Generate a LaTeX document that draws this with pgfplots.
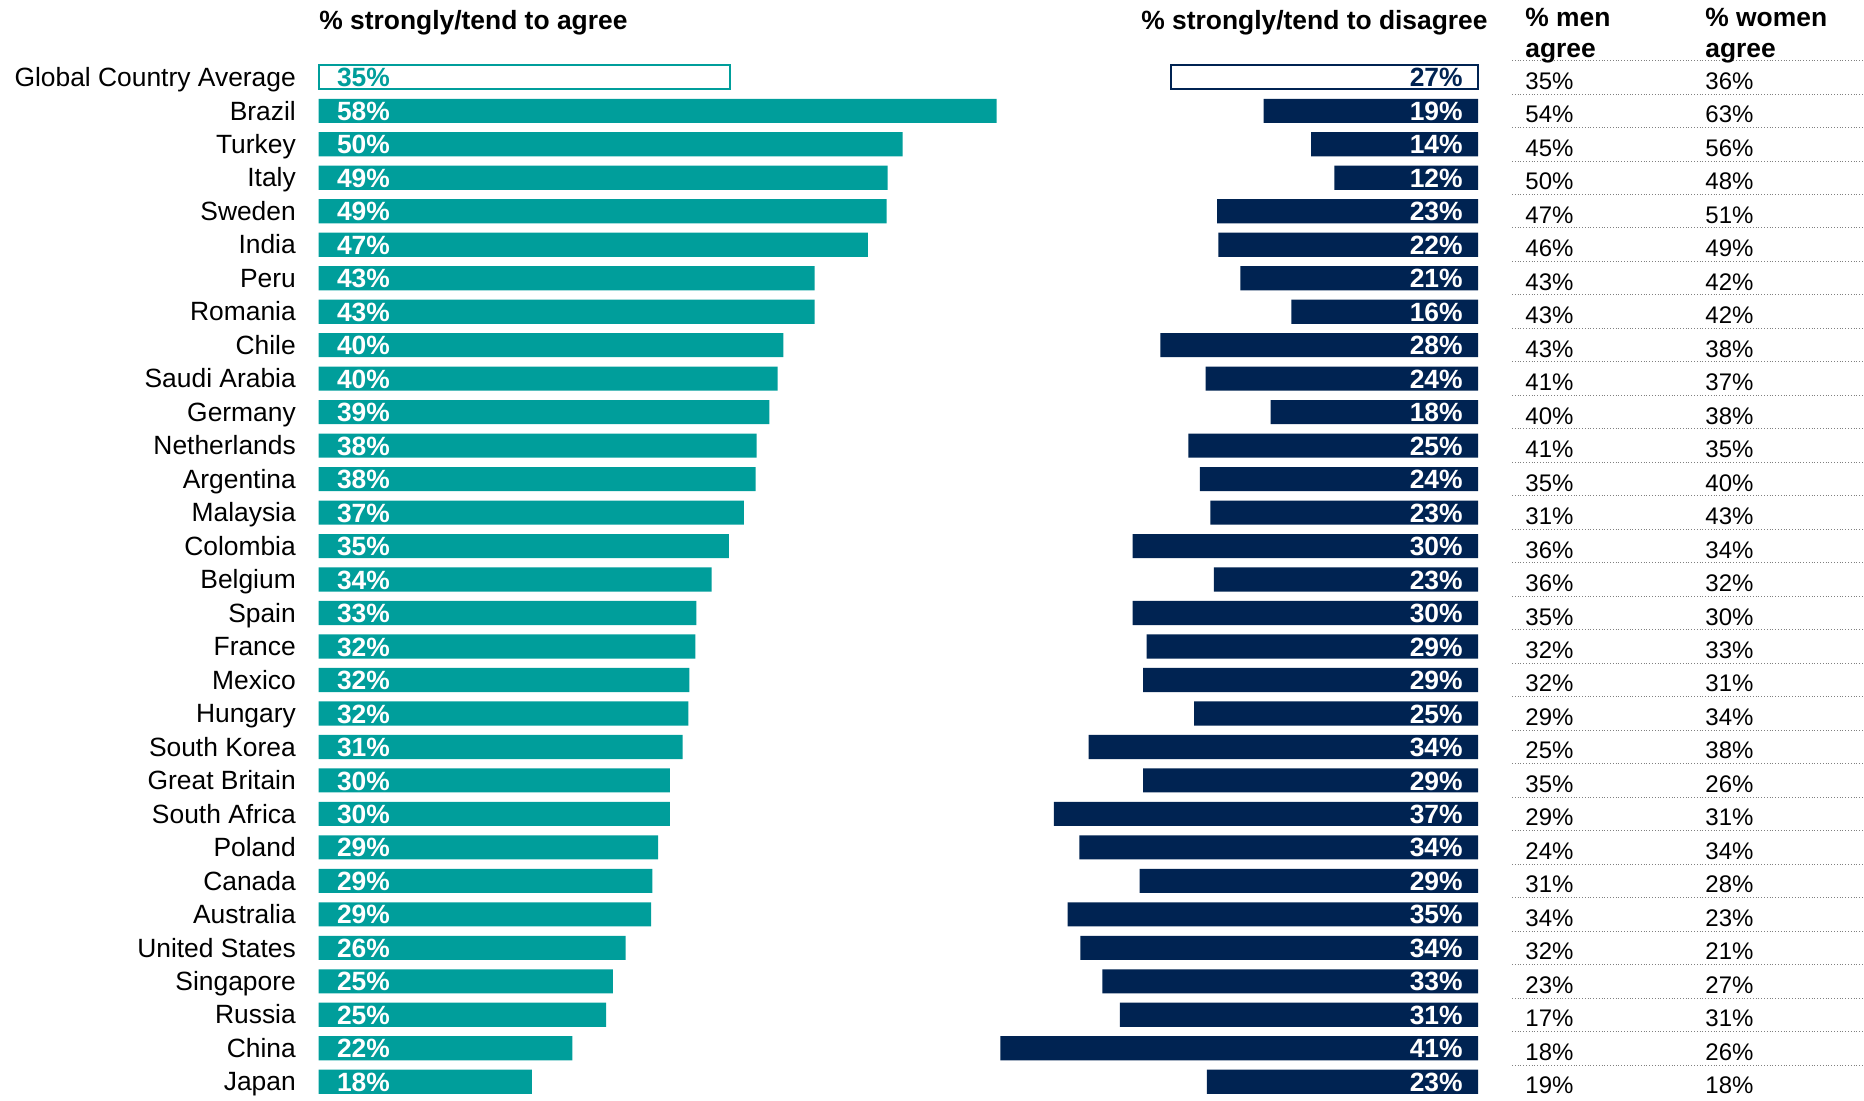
\documentclass[border=0pt]{standalone}
\usepackage{fontspec}
\setmainfont{Liberation Sans}
\usepackage{pgfplots}
\pgfplotsset{compat=1.18}
\usepackage{pgfplotstable}
\definecolor{ipteal}{RGB}{0,158,155}
\definecolor{ipnavy}{RGB}{0,35,82}

\pgfplotstableread[col sep=comma]{
idx,country,agree,agreeLbl,disagree,disagreeLbl,men,women
0,Global Country Average,35.5,35,26.5,27,35,36
1,Brazil,58.5,58,18.5,19,54,63
2,Turkey,50.4,50,14.4,14,45,56
3,Italy,49.1,49,12.4,12,50,48
4,Sweden,49.0,49,22.5,23,47,51
5,India,47.4,47,22.4,22,46,49
6,Peru,42.8,43,20.5,21,43,42
7,Romania,42.8,43,16.1,16,43,42
8,Chile,40.1,40,27.4,28,43,38
9,Saudi Arabia,39.6,40,23.5,24,41,37
10,Germany,38.9,39,17.9,18,40,38
11,Netherlands,37.8,38,25.0,25,41,35
12,Argentina,37.7,38,24.0,24,35,40
13,Malaysia,36.7,37,23.1,23,31,43
14,Colombia,35.4,35,29.8,30,36,34
15,Belgium,33.9,34,22.8,23,36,32
16,Spain,32.6,33,29.8,30,35,30
17,France,32.5,32,28.6,29,32,33
18,Mexico,32.0,32,28.9,29,32,31
19,Hungary,31.9,32,24.5,25,29,34
20,South Korea,31.4,31,33.6,34,25,38
21,Great Britain,30.3,30,28.9,29,35,26
22,South Africa,30.3,30,36.6,37,29,31
23,Poland,29.3,29,34.4,34,24,34
24,Canada,28.8,29,29.2,29,31,28
25,Australia,28.7,29,35.4,35,34,23
26,United States,26.5,26,34.3,34,32,21
27,Singapore,25.4,25,32.4,33,23,27
28,Russia,24.8,25,30.9,31,17,31
29,China,21.9,22,41.2,41,18,26
30,Japan,18.4,18,23.4,23,19,18
}\data

\newcommand{\lblfont}{\fontsize{13.2}{15}\selectfont}
\newcommand{\tabfont}{\fontsize{12}{14}\selectfont}

\pgfplotsset{
  rowaxis/.style={
    scale only axis, width=347.7pt, height=518.95pt,
    xmin=0, xmax=60, ymin=-0.5, ymax=30.5, y dir=reverse,
    axis line style={draw=none}, major tick length=0pt,
    xtick=\empty, clip=false,
  },
  valbar/.style={xbar, bar width=0.72, bar shift=0pt},
}

\begin{document}
\begin{tikzpicture}
% ---------- agree ----------
\begin{axis}[rowaxis,
  at={(159.3pt,520.2pt)}, anchor=north west,
  ytick={0,...,30},
  yticklabels from table={\data}{country},
  yticklabel style={font=\lblfont, inner sep=0pt, anchor=base east, xshift=-11.2pt, yshift=-4.6pt},
]
\addplot[valbar, fill=ipteal, draw=none, skip coords between index={0}{1}] table[x=agree,y=idx]{\data};
\addplot[valbar, fill=white, draw=ipteal, line width=1pt, skip coords between index={1}{31}] table[x=agree,y=idx]{\data};
\addplot[draw=none, mark=none, nodes near coords={\pgfplotspointmeta\%}, point meta=explicit symbolic,
  every node near coord/.append style={anchor=base west, inner sep=0pt, xshift=9pt, yshift=-4.8pt, font=\bfseries\lblfont, text=white},
  skip coords between index={0}{1}] table[x expr=0, y=idx, meta=agreeLbl]{\data};
\addplot[draw=none, mark=none, nodes near coords={\pgfplotspointmeta\%}, point meta=explicit symbolic,
  every node near coord/.append style={anchor=base west, inner sep=0pt, xshift=9pt, yshift=-4.8pt, font=\bfseries\lblfont, text=ipteal},
  skip coords between index={1}{31}] table[x expr=0, y=idx, meta=agreeLbl]{\data};
\end{axis}

% ---------- disagree ----------
\begin{axis}[rowaxis, x dir=reverse,
  at={(739pt,520.2pt)}, anchor=north east,
  ytick=\empty,
]
\addplot[valbar, fill=ipnavy, draw=none, skip coords between index={0}{1}] table[x=disagree,y=idx]{\data};
\addplot[valbar, fill=white, draw=ipnavy, line width=1pt, skip coords between index={1}{31}] table[x=disagree,y=idx]{\data};
\addplot[draw=none, mark=none, nodes near coords={\pgfplotspointmeta\%}, point meta=explicit symbolic,
  every node near coord/.append style={anchor=base east, inner sep=0pt, xshift=-7.5pt, yshift=-4.8pt, font=\bfseries\lblfont, text=white},
  skip coords between index={0}{1}] table[x expr=0, y=idx, meta=disagreeLbl]{\data};
\addplot[draw=none, mark=none, nodes near coords={\pgfplotspointmeta\%}, point meta=explicit symbolic,
  every node near coord/.append style={anchor=base east, inner sep=0pt, xshift=-7.5pt, yshift=-4.8pt, font=\bfseries\lblfont, text=ipnavy},
  skip coords between index={1}{31}] table[x expr=0, y=idx, meta=disagreeLbl]{\data};
\end{axis}

% ---------- table ----------
\begin{axis}[
  scale only axis, width=176pt, height=518.95pt,
  at={(756pt,520.2pt)}, anchor=north west,
  xmin=0, xmax=176, ymin=-0.5, ymax=30.5, y dir=reverse,
  axis line style={draw=none}, major tick length=0pt,
  xtick=\empty, ytick={-0.5,0.5,...,29.5}, yticklabels={},
  ymajorgrids, grid style={densely dotted, black!50, line width=0.5pt},
  clip=false,
]
\addplot[draw=none, mark=none, nodes near coords={\pgfplotspointmeta\%}, point meta=explicit symbolic,
  every node near coord/.append style={anchor=base west, inner sep=0pt, yshift=-6pt, font=\tabfont, text=black}]
  table[x expr=6.5, y=idx, meta=men]{\data};
\addplot[draw=none, mark=none, nodes near coords={\pgfplotspointmeta\%}, point meta=explicit symbolic,
  every node near coord/.append style={anchor=base west, inner sep=0pt, yshift=-6pt, font=\tabfont, text=black}]
  table[x expr=96.5, y=idx, meta=women]{\data};
\end{axis}

% ---------- headers ----------
\node[anchor=base west, inner sep=0pt, font=\bfseries\lblfont] at (159.5pt,535.8pt) {\% strongly/tend to agree};
\node[anchor=base east, inner sep=0pt, font=\bfseries\lblfont] at (744pt,535.8pt) {\% strongly/tend to disagree};
\node[anchor=base west, inner sep=0pt, font=\bfseries\lblfont] at (762.5pt,537.3pt) {\% men};
\node[anchor=base west, inner sep=0pt, font=\bfseries\lblfont] at (762.5pt,521.8pt) {agree};
\node[anchor=base west, inner sep=0pt, font=\bfseries\lblfont] at (852.5pt,537.3pt) {\% women};
\node[anchor=base west, inner sep=0pt, font=\bfseries\lblfont] at (852.5pt,521.8pt) {agree};

\pgfresetboundingbox
\path (0,0) rectangle (932pt,550.5pt);
\end{tikzpicture}
\end{document}
